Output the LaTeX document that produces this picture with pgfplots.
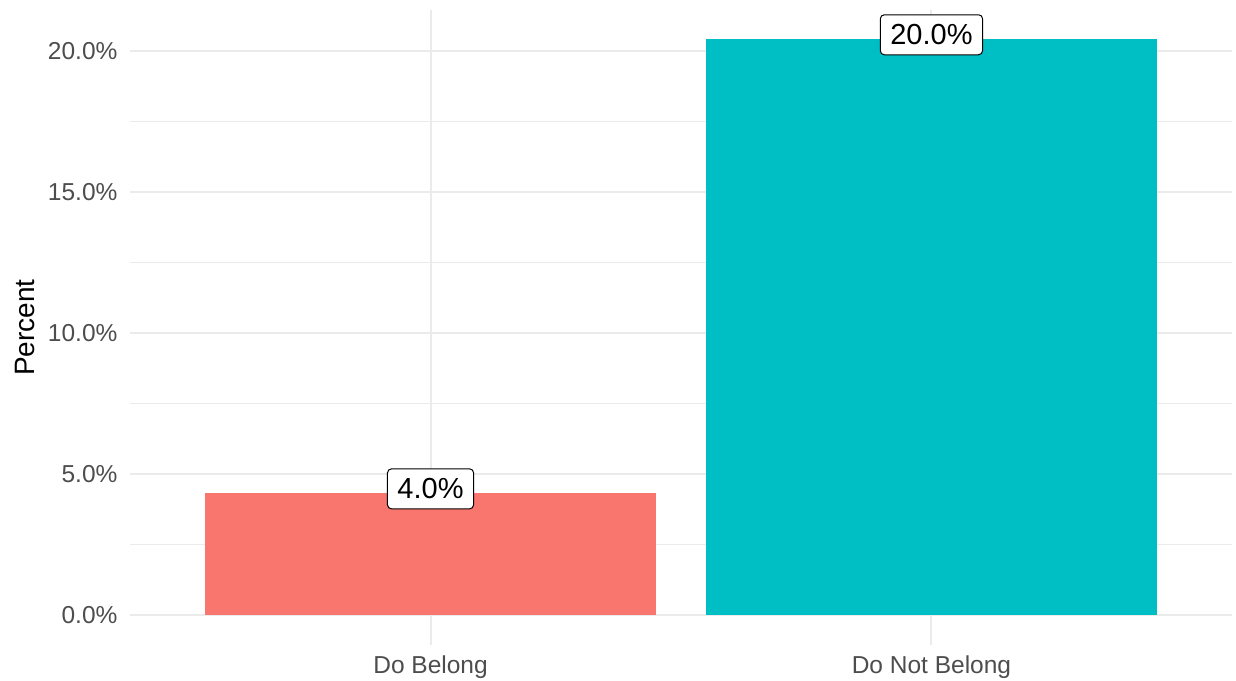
\documentclass[border=0pt]{standalone}
\usepackage{pgfplots}
\pgfplotsset{compat=1.18}
\usepackage{fontspec}
\setmainfont{Liberation Sans}
\definecolor{cA}{HTML}{F8766D}
\definecolor{cB}{HTML}{00BFC4}
\definecolor{gridc}{HTML}{EBEBEB}
\definecolor{tickc}{HTML}{4D4D4D}
\begin{document}
\begin{tikzpicture}
\path[use as bounding box] (0,0) rectangle (1236pt,680pt);
\begin{axis}[
  at={(130pt,35pt)}, anchor=south west,
  scale only axis, width=1102pt, height=635pt,
  xmin=0.4, xmax=2.6, ymin=-1.064, ymax=21.45,
  axis line style={draw=none},
  major tick length=0pt, minor tick length=0pt,
  xtick={1,2}, xticklabels={Do Belong, Do Not Belong},
  ytick={0,5,10,15,20}, yticklabels={0.0\%,5.0\%,10.0\%,15.0\%,20.0\%},
  minor ytick={2.5,7.5,12.5,17.5},
  ymajorgrids, xmajorgrids, yminorgrids,
  major grid style={draw=gridc, line width=2pt},
  minor grid style={draw=gridc, line width=1pt},
  ticklabel style={font=\fontsize{24.5pt}{28pt}\selectfont, text=tickc},
  yticklabel style={xshift=-9pt},
  xticklabel style={yshift=-7pt},
  ylabel={Percent},
  ylabel style={font=\fontsize{28pt}{32pt}\selectfont, at={(axis description cs:0,0.5)}, anchor=center, yshift=105pt},
  ybar, bar width=0.9, bar shift=0pt,
  point meta=explicit symbolic,
  nodes near coords,
  every node near coord/.append style={
    font=\fontsize{29pt}{32pt}\selectfont, text=black,
    draw=black, line width=1pt, fill=white, rounded corners=4pt,
    anchor=center, yshift=4pt,
    inner xsep=10pt, inner ysep=0pt, minimum height=40pt},
  clip=false,
]
\addplot[fill=cA, draw=none] coordinates {(1,4.33) [4.0\%]};
\addplot[fill=cB, draw=none] coordinates {(2,20.43) [20.0\%]};
\end{axis}
\end{tikzpicture}
\end{document}
